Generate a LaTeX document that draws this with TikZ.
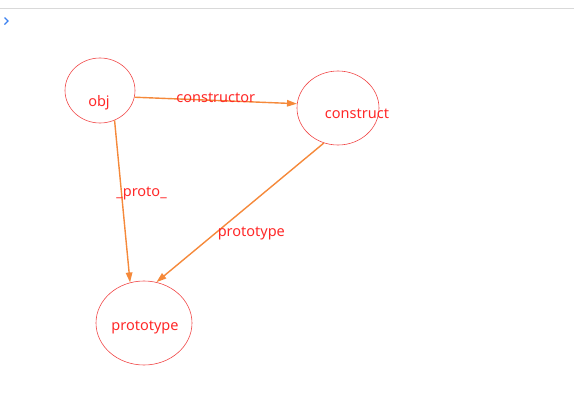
\documentclass[tikz,border=0pt]{standalone}
\usepackage{fontspec}
\setmainfont{Noto Sans}
\usetikzlibrary{shapes.geometric,arrows.meta}
\definecolor{txtred}{RGB}{255,40,40}
\definecolor{ringred}{RGB}{240,70,70}
\definecolor{linkorange}{RGB}{245,137,58}
\definecolor{barblue}{RGB}{60,130,240}
\tikzset{
  ring/.style={ellipse,draw=ringred,line width=.6pt,inner sep=0pt},
  link/.style={draw=linkorange,line width=1.4pt,-{Triangle[length=10pt,width=6.5pt]}},
  tag/.style={text=txtred,font=\fontsize{14.5}{16}\selectfont,inner sep=0pt},
}
\begin{document}
\begin{tikzpicture}[x=1pt,y=-1pt]
  \useasboundingbox (0,0) rectangle (574,402);
  % barra superior
  \draw[gray!30,line width=1pt] (0,8.5) -- (574,8.5);
  \draw[barblue,line width=1.4pt] (4.5,17.5) -- (8,21) -- (4.5,24.5);

  % elipses
  \node[ring,minimum width=70pt,minimum height=65pt] (obj) at (100,90.5) {};
  \node[ring,minimum width=82pt,minimum height=74pt] (construct) at (338,108) {};
  \node[ring,minimum width=96pt,minimum height=84pt] (proto) at (144,323) {};

  \node[tag] (objtxt) at (99,103) {obj};
  \node[tag] (constxt) at (357,114) {construct};
  \node[tag] (prototxt) at (145,327) {prototype};

  % flechas
  \draw[link] (obj.-11) -- (construct.174) node[tag,midway,yshift=3pt] (lblcons) {constructor};
  \draw[link] (obj.-64) -- (proto.109) node[tag,pos=.45,xshift=20pt] (lblproto) {\_proto\_};
  \draw[link] (construct.248) -- (proto.73) node[tag,pos=.65,anchor=west,xshift=2pt] (lblprot) {prototype};
\end{tikzpicture}
\end{document}
